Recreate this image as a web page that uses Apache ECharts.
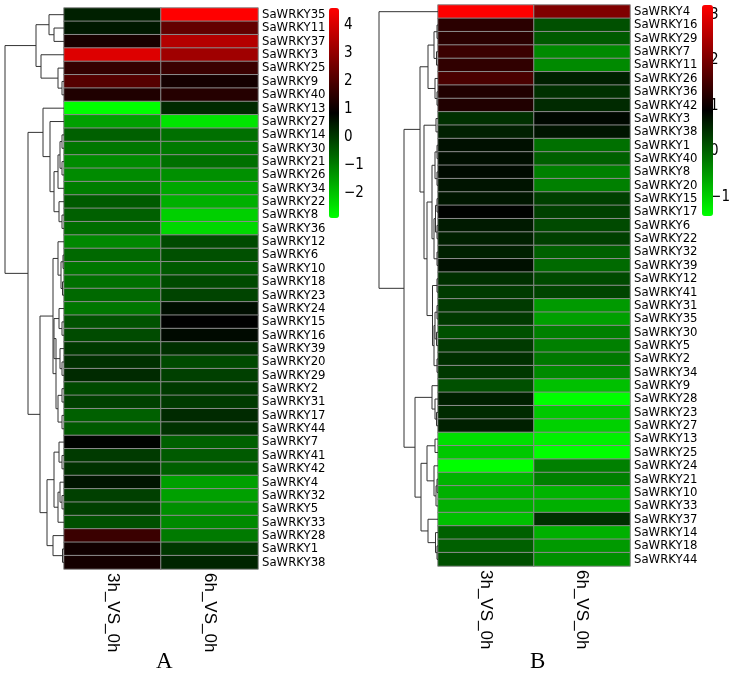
<!DOCTYPE html>
<html>
<head>
<meta charset="utf-8">
<script src="https://cdn.jsdelivr.net/npm/echarts@6/dist/echarts.min.js"></script>
<style>html,body{margin:0;padding:0;background:#fff}#c{width:733px;height:681px}</style>
</head>
<body>
<div id="c"></div>
<script>
// ---------------- DATA ----------------
const columns = ['3h_VS_0h', '6h_VS_0h'];

const rowsA = ['SaWRKY35','SaWRKY11','SaWRKY37','SaWRKY3','SaWRKY25','SaWRKY9','SaWRKY40','SaWRKY13','SaWRKY27','SaWRKY14','SaWRKY30','SaWRKY21','SaWRKY26','SaWRKY34','SaWRKY22','SaWRKY8','SaWRKY36','SaWRKY12','SaWRKY6','SaWRKY10','SaWRKY18','SaWRKY23','SaWRKY24','SaWRKY15','SaWRKY16','SaWRKY39','SaWRKY20','SaWRKY29','SaWRKY2','SaWRKY31','SaWRKY17','SaWRKY44','SaWRKY7','SaWRKY41','SaWRKY42','SaWRKY4','SaWRKY32','SaWRKY5','SaWRKY33','SaWRKY28','SaWRKY1','SaWRKY38'];
const a3h = [0.38,0.5,1.2,4.1,1.6,2.1,1.3,-2.9,-1.5,-0.56,-0.9,-1.2,-1.2,-1.0,-0.47,-0.56,-0.75,-1.15,-0.7,-0.9,-0.8,-0.7,-0.9,-0.35,-0.25,0.0,0.14,0.23,-0.24,-0.09,-0.56,-0.47,0.8,0.0,0.11,0.55,-0.09,-0.09,-0.33,1.7,1.1,1.15];
const a6h = [4.6,2.3,3.5,3.2,1.7,1.15,1.4,0.23,-2.5,-0.8,-0.94,-0.8,-1.27,-1.62,-1.74,-2.21,-2.33,-0.24,-0.33,-0.47,-0.24,-0.15,0.65,0.85,0.7,0.14,-0.24,-0.09,0.0,0.0,0.23,0.11,-0.56,-0.47,-0.56,-1.5,-1.5,-1.27,-1.18,-0.94,0.03,0.3];
const rangeA = [-2.9, 4.6];
const ticksA = [-2, -1, 0, 1, 2, 3, 4];
// dendrogram A: [left, right, height]; number = row index, 'mK' = K-th merge
const treeA = [
  [1,2,10],[0,'m0',15],[5,6,2],[4,'m2',6],[3,'m3',23],['m1','m4',28],
  [9,10,2],[11,12,2],['m6','m7',4],['m8',13,6],[15,16,2],[14,'m10',5],['m9','m11',10],[8,'m12',14],[7,'m13',21],
  [18,19,1],[20,21,1.5],['m15','m16',3],[17,'m17',6],
  [23,24,2],[22,'m19',5],[26,27,2],[25,'m21',4],['m20','m22',10],[28,29,2],[30,31,2],['m24','m25',6],['m23','m26',8],
  ['m18','m27',11],
  [33,34,2],[32,'m29',5],[36,37,2],[35,'m31',4],['m32',38,6],['m30','m33',10],[40,41,1.5],[39,'m35',11],['m34','m36',17],
  ['m28','m37',24],['m14','m38',36],['m5','m39',59]
];

const rowsB = ['SaWRKY4','SaWRKY16','SaWRKY29','SaWRKY7','SaWRKY11','SaWRKY26','SaWRKY36','SaWRKY42','SaWRKY3','SaWRKY38','SaWRKY1','SaWRKY40','SaWRKY8','SaWRKY20','SaWRKY15','SaWRKY17','SaWRKY6','SaWRKY22','SaWRKY32','SaWRKY39','SaWRKY12','SaWRKY41','SaWRKY31','SaWRKY35','SaWRKY30','SaWRKY5','SaWRKY2','SaWRKY34','SaWRKY9','SaWRKY28','SaWRKY23','SaWRKY27','SaWRKY13','SaWRKY25','SaWRKY24','SaWRKY21','SaWRKY10','SaWRKY33','SaWRKY37','SaWRKY14','SaWRKY18','SaWRKY44'];
const b3h = [3.22,1.28,1.28,1.43,1.34,1.57,1.19,1.19,0.46,0.61,0.75,0.77,0.81,0.72,0.7,0.88,0.66,0.61,0.61,0.75,0.46,0.37,0.37,0.37,0.17,0.37,0.46,0.39,0.17,0.61,0.52,0.61,-1.14,-0.92,-1.42,-0.74,-0.7,-0.7,-0.85,0.03,0.03,0.17];
const b6h = [2.06,0.17,0.08,-0.36,-0.36,0.61,0.46,0.52,0.83,0.72,-0.12,0.03,-0.26,-0.26,0.32,0.32,0.23,0.32,0.03,-0.06,0.23,0.28,-0.5,-0.56,-0.26,-0.26,-0.2,-0.36,-0.85,-1.42,-0.92,-1.0,-1.28,-1.42,-0.26,-0.26,-0.74,-0.7,0.46,-0.7,-0.5,-0.41];
const rangeB = [-1.42, 3.22];
const ticksB = [-1, 0, 1, 2, 3];
const treeB = [
  [1,2,1],[3,4,1.5],['m0','m1',4],[6,7,1],[5,'m3',3],['m2','m4',10],
  [10,11,1],[12,13,1],['m6','m7',3],[14,15,1],[16,17,1],['m9','m10',2.5],[18,19,1],['m11','m12',4],['m8','m13',6],
  [20,21,1],[22,23,1],[24,25,1.5],['m16','m17',3],[26,27,1],['m18','m19',4],['m15','m20',5.5],['m14','m21',11],
  [8,9,2],['m23','m22',14],['m5','m24',18],
  [30,31,1.5],[29,'m26',3],[28,'m27',6],
  [32,33,3],[35,36,1],['m30',37,2],[34,'m31',4],['m29','m32',11],[40,41,1],[39,'m34',2.5],[38,'m35',10],['m33','m36',17],
  ['m28','m37',23],['m25','m38',34],[0,'m39',59]
];

// ---------------- BUILD ----------------
const NARROW = "'DejaVu Sans Condensed','Liberation Sans Narrow',sans-serif";
const SANS = "'Liberation Sans',Arial,sans-serif";

function cells(v1, v2) {
  const out = [];
  v1.forEach((v, i) => out.push([0, i, v]));
  v2.forEach((v, i) => out.push([1, i, v]));
  return out;
}
function dendro(tree) {
  const pos = {};
  const get = r => typeof r === 'number' ? [0, r + 0.5] : pos[r];
  const out = [];
  tree.forEach((m, k) => {
    const a = get(m[0]), b = get(m[1]), H = m[2];
    out.push({ coords: [[a[0], a[1]], [H, a[1]], [H, b[1]], [b[0], b[1]]] });
    pos['m' + k] = [H, (a[1] + b[1]) / 2];
  });
  return out;
}
const minus = v => String(v).replace('-', '\u2212');

const L = {
  A: { heat: { left: 64, top: 8, width: 194, height: 561 }, dend: { left: 5, top: 8, width: 59, height: 561 }, cb: { left: 329, top: 8, width: 10, height: 210 } },
  B: { heat: { left: 438, top: 5, width: 192, height: 561 }, dend: { left: 379, top: 5, width: 59, height: 561 }, cb: { left: 702, top: 5, width: 11, height: 211 } }
};

const grid = [], xAxis = [], yAxis = [], series = [], visualMap = [];
[['A', rowsA, a3h, a6h, rangeA, ticksA, treeA], ['B', rowsB, b3h, b6h, rangeB, ticksB, treeB]].forEach(([k, rows, v1, v2, rng, ticks, tree]) => {
  const g0 = grid.length;
  grid.push(L[k].heat, L[k].dend, L[k].cb);
  xAxis.push({ gridIndex: g0, type: 'category', data: columns, position: 'bottom',
    axisLine: { show: false }, axisTick: { show: false },
    axisLabel: { rotate: -90, margin: 4, fontSize: 17, fontFamily: SANS, color: '#000' } });
  yAxis.push({ gridIndex: g0, type: 'category', data: rows, inverse: true, position: 'right',
    axisLine: { show: false }, axisTick: { show: false },
    axisLabel: { interval: 0, margin: 4, fontSize: 13, fontFamily: NARROW, color: '#000' } });
  xAxis.push({ gridIndex: g0 + 1, type: 'value', min: 0, max: 59, inverse: true, show: false });
  yAxis.push({ gridIndex: g0 + 1, type: 'value', min: 0, max: rows.length, inverse: true, show: false });
  xAxis.push({ gridIndex: g0 + 2, type: 'value', show: false });
  yAxis.push({ gridIndex: g0 + 2, type: 'value', min: rng[0], max: rng[1], position: 'right',
    axisLine: { show: false }, axisTick: { show: false }, splitLine: { show: false },
    axisLabel: { customValues: ticks, margin: 5, fontSize: 15, fontFamily: NARROW, color: '#000', formatter: minus } });

  series.push({ type: 'heatmap', xAxisIndex: g0, yAxisIndex: g0, data: cells(v1, v2),
    itemStyle: { borderColor: '#8c8c8c', borderWidth: 1 }, emphasis: { disabled: true } });
  series.push({ type: 'lines', coordinateSystem: 'cartesian2d', xAxisIndex: g0 + 1, yAxisIndex: g0 + 1,
    polyline: true, data: dendro(tree), lineStyle: { color: '#333', width: 1, opacity: 1 }, silent: true });

  visualMap.push({ type: 'continuous', seriesIndex: series.length - 2, min: rng[0], max: rng[1],
    left: L[k].cb.left, top: L[k].cb.top, itemWidth: L[k].cb.width, itemHeight: L[k].cb.height,
    padding: 0, calculable: false, text: null, hoverLink: false,
    inRange: { color: ['#00ff00', '#000000', '#ff0000'] }, textStyle: { color: 'transparent' } });
});

const chart = echarts.init(document.getElementById('c'), null, { renderer: 'canvas' });
chart.setOption({
  animation: false,
  backgroundColor: '#fff',
  grid, xAxis, yAxis, series, visualMap,
  graphic: [
    { type: 'text', left: 156, top: 650, style: { text: 'A', font: "23px 'Liberation Serif',serif", fill: '#000' } },
    { type: 'text', left: 530, top: 650, style: { text: 'B', font: "23px 'Liberation Serif',serif", fill: '#000' } }
  ]
});
</script>
</body>
</html>
